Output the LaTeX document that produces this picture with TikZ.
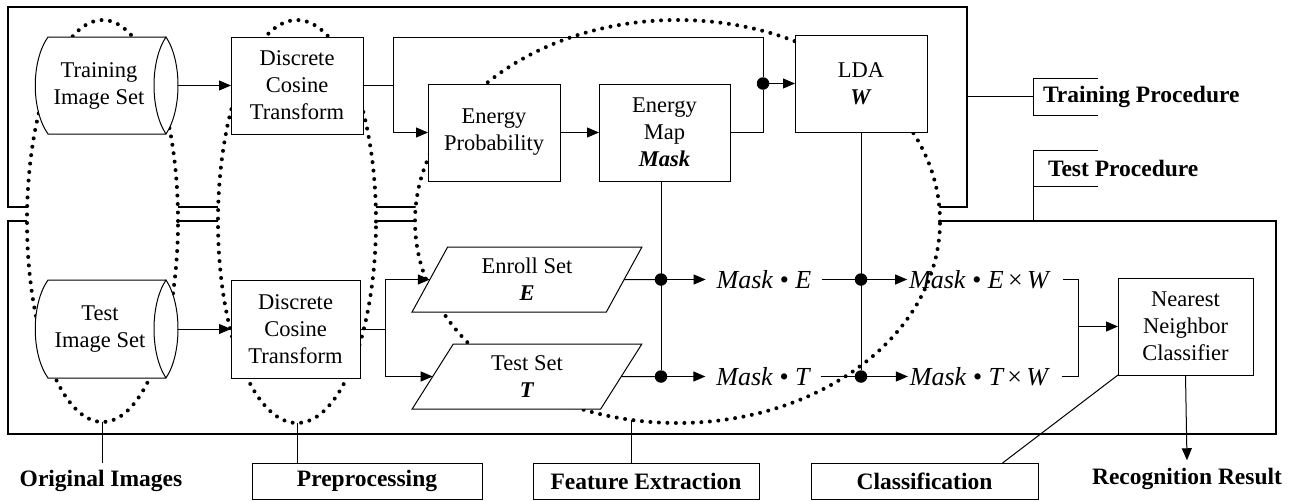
\documentclass[tikz,border=0pt]{standalone}
\usepackage{fontspec}
\setmainfont{Liberation Serif}
\usetikzlibrary{arrows.meta,shapes.geometric,calc}
\begin{document}
\begin{tikzpicture}[x=1pt,y=-1pt,
  every node/.style={font=\fontsize{22.5}{27}\selectfont},
  frm/.style={draw, line width=1.9pt, inner sep=0pt, outer sep=0pt},
  bx/.style={draw, fill=white, line width=1pt, align=center, inner sep=0pt, outer sep=0pt},
  prl/.style={trapezium, trapezium left angle=64.5, trapezium right angle=115.5, trapezium stretches=true, draw, fill=white, line width=1pt, align=center, inner sep=0pt, outer sep=0pt, minimum width=230, minimum height=65},
  rgn/.style={ellipse, draw, fill=white, line width=4pt, dash pattern=on 0pt off 8.5pt, line cap=round, inner sep=0pt, outer sep=0pt},
  lbl/.style={font=\fontsize{23.5}{27}\selectfont\bfseries, inner sep=0pt, outer sep=0pt},
  lblbox/.style={lbl, draw, line width=1pt, minimum height=36},
  mtxt/.style={font=\fontsize{26}{30}\selectfont\itshape, inner sep=0pt, outer sep=0pt},
  cn/.style={line width=1pt},
  ar/.style={cn, -{Triangle[length=12pt,width=10pt]}},
  jdot/.style={circle, fill=black, minimum size=12.5pt, inner sep=0pt, outer sep=0pt},
]
\useasboundingbox[fill=white] (0,0) rectangle (1296,501);

% procedure frames
\node[frm, minimum width=959, minimum height=200] (trf) at (487.5,107) {};
\node[frm, minimum width=1268, minimum height=213] (tef) at (642,327.5) {};

% dotted stage regions
\node[rgn, minimum width=151, minimum height=402] (e1) at (102.5,221) {};
\node[rgn, minimum width=158, minimum height=403] (e2) at (297,221.5) {};
\node[rgn, minimum width=525, minimum height=403] (e3) at (677.5,221.5) {};

% cylinders
\filldraw[fill=white, line width=1pt] (166,37) -- (48,37) .. controls (31,61) and (31,110) .. (48,134) -- (166,134) .. controls (182,110) and (182,61) .. (166,37) .. controls (150,61) and (150,110) .. (166,134);
\node[align=center, inner sep=0pt] (tis) at (99,85.5) {Training\\Image Set};
\coordinate (tisE) at (178,85.5);
\filldraw[fill=white, line width=1pt] (166,280) -- (48,280) .. controls (31,304) and (31,354) .. (48,378) -- (166,378) .. controls (182,354) and (182,304) .. (166,280) .. controls (150,304) and (150,354) .. (166,378);
\node[align=center, inner sep=0pt] (tes) at (100,329) {Test\\Image Set};
\coordinate (tesE) at (178,329);

% boxes
\node[bx, minimum width=132, minimum height=97] (dct1) at (297,85.5) {Discrete\\Cosine\\Transform};
\node[bx, minimum width=129, minimum height=98] (dct2) at (295.5,329) {Discrete\\Cosine\\Transform};
\node[bx, minimum width=132, minimum height=97] (ep) at (494,132.5) {Energy\\Probability};
\node[bx, minimum width=131, minimum height=97] (em) at (664.5,132.5) {Energy\\Map\\\textbf{\textit{Mask}}};
\node[bx, minimum width=132, minimum height=97] (lda) at (861,83.5) {LDA\\\textbf{\textit{W}}};
\node[prl] (enroll) at (527,279.5) {Enroll Set\\\textbf{\textit{E}}};
\node[prl] (tset) at (527,376.5) {Test Set\\\textbf{\textit{T}}};
\node[bx, minimum width=135, minimum height=97] (nn) at (1185.5,326.5) {Nearest\\Neighbor\\Classifier};

% math texts
\node[mtxt, inner xsep=11pt] (me) at (764,279.5) {Mask \textup{\textbullet} E};
\node[mtxt, inner xsep=11pt] (mt) at (763,376.5) {Mask \textup{\textbullet} T};
\node[mtxt, inner xsep=2pt] (mew) at (979,279.5) {Mask \textup{\textbullet} E\,\textup{×}\,W};
\node[mtxt, inner xsep=2pt] (mtw) at (979,376.5) {Mask \textup{\textbullet} T\,\textup{×}\,W};

% training connectors
\draw[ar] (tisE) -- (dct1.west);
\coordinate (j1) at (393,85.5);
\coordinate (ctop) at (393,37);
\draw[cn] (dct1.east) -- (j1);
\draw[ar] (j1) |- (ep.west);
\node[jdot] (d0) at (763,83.5) {};
\draw[cn] (j1) -- (ctop) -| (d0);
\draw[cn] (em.east) -| (d0);
\draw[ar] (d0) -- (lda.west);
\draw[ar] (ep.east) -- (em.west);

% test connectors
\draw[ar] (tesE) -- (dct2.west);
\coordinate (j2) at (385,329);
\draw[cn] (dct2.east) -- (j2);
\draw[ar] (j2) |- (enroll.west);
\draw[ar] (j2) |- (tset.west);

\node[jdot] (dE1) at (661,279.5) {};
\node[jdot] (dT1) at (661,376.5) {};
\node[jdot] (dE2) at (lda.south |- dE1) {};
\node[jdot] (dT2) at (lda.south |- dT1) {};
\draw[cn] (dE1 |- em.south) -- (dT1);
\draw[cn] (lda.south) -- (dT2);
\draw[cn] (enroll.east) -- (dE1);
\draw[cn] (tset.east) -- (dT1);
\draw[ar] (dE1) -- (me.west);
\draw[ar] (dT1) -- (mt.west);
\draw[cn] (me.east) -- (dE2);
\draw[cn] (mt.east) -- (dT2);
\draw[ar] (dE2) -- (mew.west);
\draw[ar] (dT2) -- (mtw.west);
\coordinate (j3) at (1078,279.5);
\coordinate (j4) at (1078,376.5);
\coordinate (j5) at (1078,326.5);
\draw[cn] ([xshift=12pt]mew.east) -- (j3) -- (j4) -- ([xshift=12pt]mtw.east);
\draw[ar] (j5) -- (nn.west);

% result
\node[lbl, inner ysep=8pt] (rr) at (1187,479) {Recognition Result};
\draw[ar] (nn.south) -- (rr.north);

% procedure labels
\node[lbl, anchor=west, minimum height=37, inner xsep=10pt] (tp) at (1033,96.5) {Training Procedure};
\draw[cn] ([xshift=65pt]tp.north west) -- (tp.north west) -- (tp.south west) -- ([xshift=65pt]tp.south west);
\draw[cn] (trf.east |- tp.west) -- (tp.west);
\node[lbl, anchor=west, minimum height=36, inner xsep=15pt] (tsp) at (1033,168) {Test Procedure};
\draw[cn] ([xshift=65pt]tsp.north west) -- (tsp.north west) -- (tsp.south west) -- ([xshift=65pt]tsp.south west);
\draw[cn] (tsp.south west) -- (tsp.south west |- tef.north);

% stage labels
\node[lbl, minimum height=36] (oi) at (101,481) {Original Images};
\node[lblbox, minimum width=230] (pp) at (367,481) {Preprocessing};
\node[lblbox, minimum width=226] (fe) at (646,481) {Feature Extraction};
\node[lblbox, minimum width=227] (cls) at (924.5,481) {Classification};
\draw[cn] (e1.south) -- (e1.south |- oi.north);
\draw[cn] (e2.south) -- (e2.south |- pp.north);
\draw[cn] (e3.257) -- (e3.257 |- fe.north);
\draw[cn] ([xshift=78pt]cls.north) -- (nn.south west);
\end{tikzpicture}
\end{document}
